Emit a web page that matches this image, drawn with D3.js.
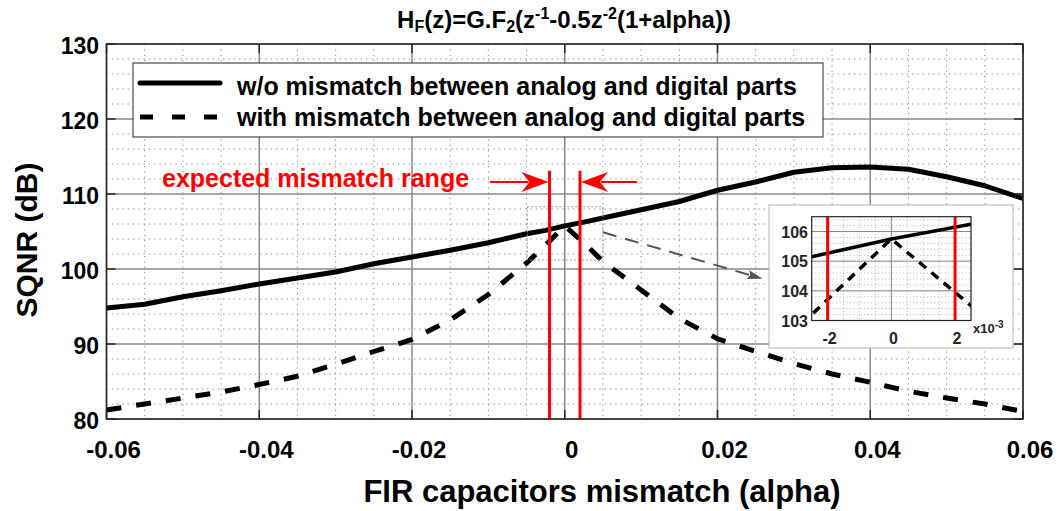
<!DOCTYPE html>
<html>
<head>
<meta charset="utf-8">
<script src="https://cdn.jsdelivr.net/npm/d3@7"></script>
<style>
  body { margin: 0; background: #fff; }
  svg text { font-family: "Liberation Sans", Arial, sans-serif; font-weight: bold; }
</style>
</head>
<body>
<svg id="chart" width="1062" height="511"></svg>
<script>
// mismatch values (alpha) where the curves were sampled
const alpha = [-0.06, -0.055, -0.05, -0.045, -0.04, -0.035, -0.03, -0.025, -0.02, -0.015, -0.01, -0.005, -0.0025,
  0, 0.0025, 0.005, 0.01, 0.015, 0.02, 0.025, 0.03, 0.035, 0.04, 0.045, 0.05, 0.055, 0.06];
// SQNR (dB) w/o mismatch between analog and digital parts
const sqnrMatched = [94.8, 95.3, 96.3, 97.1, 98.0, 98.8, 99.6, 100.7, 101.6, 102.5, 103.5, 104.7, 105.15,
  105.75, 106.25, 106.8, 107.9, 109.0, 110.5, 111.6, 112.9, 113.5, 113.6, 113.3, 112.3, 111.1, 109.4];
// SQNR (dB) with mismatch between analog and digital parts
const sqnrMismatch = [81.2, 82.0, 82.8, 83.6, 84.6, 85.7, 87.3, 89.0, 90.6, 93.2, 96.6, 100.8, 103.2,
  105.75, 103.5, 101.0, 97.2, 93.4, 90.7, 89.0, 87.4, 86.0, 84.9, 83.7, 82.8, 82.0, 81.0];

const xTicks = [-0.06, -0.04, -0.02, 0, 0.02, 0.04, 0.06];
const yTicks = [80, 90, 100, 110, 120, 130];
const insetXTicks = [-0.002, 0, 0.002];
const insetYTicks = [103, 104, 105, 106];

// expected mismatch range (red lines) and zoom region
const rangeLines = [-0.002, 0.002];
const rangeTop = 113.1;
const zoomBoxX = [-0.0049, 0.005];
const zoomBoxY = [101.2, 108.3];
const zoomArrow = [[0.005, 104.9], [0.0259, 98.7]];

const legendLabels = ["w/o mismatch between analog and digital parts", "with mismatch between analog and digital parts"];

const svg = d3.select("#chart");

const m = { left: 106.5, right: 1023, top: 44, bottom: 419 };
const x = d3.scaleLinear().domain([-0.06, 0.06]).range([m.left, m.right]);
const y = d3.scaleLinear().domain([80, 130]).range([m.bottom, m.top]);

//Grid: minor dotted first, then major solid
const gMinor = svg.append("g").attr("stroke", "#8a8a8a").attr("stroke-width", 1).attr("stroke-dasharray", "1.3,4");
d3.range(-0.06, 0.0601, 0.005).filter(v => Math.abs(Math.round(v / 0.02) * 0.02 - v) > 1e-6).forEach(v => {
  gMinor.append("line").attr("x1", x(v)).attr("x2", x(v)).attr("y1", m.top).attr("y2", m.bottom);
});
d3.range(80, 130.1, 2).filter(v => v % 10 !== 0).forEach(v => {
  gMinor.append("line").attr("x1", m.left).attr("x2", m.right).attr("y1", y(v)).attr("y2", y(v));
});
const gMajor = svg.append("g").attr("stroke", "#8a8a8a").attr("stroke-width", 1.5);
xTicks.forEach(v => gMajor.append("line").attr("x1", x(v)).attr("x2", x(v)).attr("y1", m.top).attr("y2", m.bottom));
yTicks.forEach(v => gMajor.append("line").attr("x1", m.left).attr("x2", m.right).attr("y1", y(v)).attr("y2", y(v)));

//Curves
const line = d3.line().x(d => x(d[0])).y(d => y(d[1]));
const ptsA = alpha.map((a, i) => [a, sqnrMatched[i]]);
const ptsB = alpha.map((a, i) => [a, sqnrMismatch[i]]);

svg.append("defs").append("clipPath").attr("id", "mainClip")
  .append("rect").attr("x", m.left).attr("y", m.top).attr("width", m.right - m.left).attr("height", m.bottom - m.top);

const gData = svg.append("g").attr("clip-path", "url(#mainClip)");
gData.append("path").datum(ptsB).attr("d", line).attr("fill", "none").attr("stroke", "#000")
  .attr("stroke-width", 5).attr("stroke-dasharray", "15,15");
gData.append("path").datum(ptsA).attr("d", line).attr("fill", "none").attr("stroke", "#000")
  .attr("stroke-width", 5).attr("stroke-linejoin", "round");

//Zoom region + arrow to inset
svg.append("rect").attr("x", x(zoomBoxX[0])).attr("y", y(zoomBoxY[1]))
  .attr("width", x(zoomBoxX[1]) - x(zoomBoxX[0])).attr("height", y(zoomBoxY[0]) - y(zoomBoxY[1]))
  .attr("fill", "none").attr("stroke", "#9a9a9a").attr("stroke-width", 1).attr("stroke-dasharray", "2,2");

function arrowHead(x2, y2, ang, len, half, notch, color) {
  const c = Math.cos(ang), s = Math.sin(ang);
  const p = (a, b) => [x2 - a * c + b * s, y2 - a * s - b * c];
  const pts = [[x2, y2], p(len, half), p(len - notch, 0), p(len, -half)];
  return svg.append("path").attr("d", "M" + pts.map(q => q.join(",")).join("L") + "Z").attr("fill", color);
}

{
  const [a0, a1] = zoomArrow;
  const x1 = x(a0[0]), y1 = y(a0[1]), x2 = x(a1[0]), y2 = y(a1[1]);
  const ang = Math.atan2(y2 - y1, x2 - x1);
  const hl = 13;
  svg.append("line").attr("x1", x1).attr("y1", y1)
    .attr("x2", x2 - hl * Math.cos(ang)).attr("y2", y2 - hl * Math.sin(ang))
    .attr("stroke", "#555").attr("stroke-width", 2).attr("stroke-dasharray", "14,9");
  arrowHead(x2, y2, ang, 15, 4.5, 2, "#555");
}

//Red range lines
rangeLines.forEach(v => {
  svg.append("line").attr("x1", x(v)).attr("x2", x(v)).attr("y1", y(rangeTop)).attr("y2", m.bottom)
    .attr("stroke", "#ff0000").attr("stroke-width", 3);
});
// arrows pointing at the range
const arrowY = 182;
[[490, x(rangeLines[0]) - 1], [637, x(rangeLines[1]) + 1]].forEach(([xs, xe]) => {
  const ang = xe > xs ? 0 : Math.PI;
  svg.append("line").attr("x1", xs).attr("x2", xe - 20 * Math.cos(ang)).attr("y1", arrowY).attr("y2", arrowY)
    .attr("stroke", "#ff0000").attr("stroke-width", 2);
  arrowHead(xe, arrowY, ang, 27, 10, 8, "#ff0000");
});
svg.append("text").attr("x", 162).attr("y", 187).attr("fill", "#ff0000").attr("font-size", 25)
  .text("expected mismatch range");

//Axes box and ticks
svg.append("rect").attr("x", m.left).attr("y", m.top).attr("width", m.right - m.left).attr("height", m.bottom - m.top)
  .attr("fill", "none").attr("stroke", "#262626").attr("stroke-width", 1.5);
const gTicks = svg.append("g").attr("stroke", "#262626").attr("stroke-width", 1.5);
const tl = 9;
xTicks.forEach(v => {
  gTicks.append("line").attr("x1", x(v)).attr("x2", x(v)).attr("y1", m.bottom).attr("y2", m.bottom - tl);
  gTicks.append("line").attr("x1", x(v)).attr("x2", x(v)).attr("y1", m.top).attr("y2", m.top + tl);
});
yTicks.forEach(v => {
  gTicks.append("line").attr("x1", m.left).attr("x2", m.left + tl).attr("y1", y(v)).attr("y2", y(v));
  gTicks.append("line").attr("x1", m.right).attr("x2", m.right - tl).attr("y1", y(v)).attr("y2", y(v));
});

const fmtX = d => d === 0 ? "0" : d.toFixed(2);
svg.append("g").selectAll("text").data(xTicks).enter().append("text")
  .attr("x", d => x(d) + 7).attr("y", 458).attr("text-anchor", "middle").attr("font-size", 24)
  .attr("fill", "#000").text(fmtX);
svg.append("g").selectAll("text").data(yTicks).enter().append("text")
  .attr("x", 99).attr("y", d => y(d) + 10).attr("text-anchor", "end").attr("font-size", 23)
  .attr("fill", "#000").text(d => d);

//Axis labels and title
svg.append("text").attr("x", 602).attr("y", 502).attr("text-anchor", "middle").attr("font-size", 31)
  .text("FIR capacitors mismatch (alpha)");
svg.append("text").attr("transform", "translate(37,240) rotate(-90)").attr("text-anchor", "middle")
  .attr("font-size", 30).text("SQNR (dB)");

const title = svg.append("text").attr("x", 564).attr("y", 28).attr("text-anchor", "middle").attr("font-size", 24);
title.append("tspan").text("H");
title.append("tspan").attr("font-size", 16).attr("dy", 4).text("F");
title.append("tspan").attr("dy", -4).text("(z)=G.F");
title.append("tspan").attr("font-size", 16).attr("dy", 4).text("2");
title.append("tspan").attr("dy", -4).text("(z");
title.append("tspan").attr("font-size", 16).attr("dy", -9).text("-1");
title.append("tspan").attr("dy", 9).text("-0.5z");
title.append("tspan").attr("font-size", 16).attr("dy", -9).text("-2");
title.append("tspan").attr("dy", 9).text("(1+alpha))");

//Legend
const lg = { x: 133, y: 63, w: 690, h: 74 };
svg.append("rect").attr("x", lg.x).attr("y", lg.y).attr("width", lg.w).attr("height", lg.h)
  .attr("fill", "#fff").attr("stroke", "#262626").attr("stroke-width", 1);
svg.append("line").attr("x1", 140).attr("x2", 220).attr("y1", 83).attr("y2", 83)
  .attr("stroke", "#000").attr("stroke-width", 5).attr("stroke-linecap", "round");
svg.append("line").attr("x1", 140).attr("x2", 220).attr("y1", 117).attr("y2", 117)
  .attr("stroke", "#000").attr("stroke-width", 5).attr("stroke-dasharray", "13,19");
legendLabels.forEach((t, i) => {
  svg.append("text").attr("x", 237).attr("y", 94.5 + i * 31).attr("font-size", 25).text(t);
});

//Inset zoom
svg.append("rect").attr("x", 769).attr("y", 205).attr("width", 244).attr("height", 143)
  .attr("fill", "#fff").attr("stroke", "#b4b4b4").attr("stroke-width", 1);
const ib = { left: 811.7, right: 971, top: 216.7, bottom: 320.5 };
const ix = d3.scaleLinear().domain([-0.0025, 0.0025]).range([ib.left, ib.right]);
const iy = d3.scaleLinear().domain([103, 106.5]).range([ib.bottom, ib.top]);

const giMinor = svg.append("g").attr("stroke", "#a0a0a0").attr("stroke-width", 0.8).attr("stroke-dasharray", "1,2.5");
d3.range(-0.0025, 0.00251, 0.0005).forEach(v => {
  giMinor.append("line").attr("x1", ix(v)).attr("x2", ix(v)).attr("y1", ib.top).attr("y2", ib.bottom);
});
d3.range(103, 106.51, 0.2).forEach(v => {
  giMinor.append("line").attr("x1", ib.left).attr("x2", ib.right).attr("y1", iy(v)).attr("y2", iy(v));
});
const giMajor = svg.append("g").attr("stroke", "#8a8a8a").attr("stroke-width", 1);
insetXTicks.forEach(v => giMajor.append("line").attr("x1", ix(v)).attr("x2", ix(v)).attr("y1", ib.top).attr("y2", ib.bottom));
insetYTicks.forEach(v => giMajor.append("line").attr("x1", ib.left).attr("x2", ib.right).attr("y1", iy(v)).attr("y2", iy(v)));

svg.select("defs").append("clipPath").attr("id", "insetClip")
  .append("rect").attr("x", ib.left).attr("y", ib.top).attr("width", ib.right - ib.left).attr("height", ib.bottom - ib.top);
const iline = d3.line().x(d => ix(d[0])).y(d => iy(d[1]));
const gi = svg.append("g").attr("clip-path", "url(#insetClip)");
gi.append("path").datum(ptsB).attr("d", iline).attr("fill", "none").attr("stroke", "#000")
  .attr("stroke-width", 3.5).attr("stroke-dasharray", "9,7");
gi.append("path").datum(ptsA).attr("d", iline).attr("fill", "none").attr("stroke", "#000")
  .attr("stroke-width", 3.5);
rangeLines.forEach(v => {
  gi.append("line").attr("x1", ix(v)).attr("x2", ix(v)).attr("y1", ib.top).attr("y2", ib.bottom)
    .attr("stroke", "#ff0000").attr("stroke-width", 3);
});
svg.append("rect").attr("x", ib.left).attr("y", ib.top).attr("width", ib.right - ib.left).attr("height", ib.bottom - ib.top)
  .attr("fill", "none").attr("stroke", "#262626").attr("stroke-width", 1.2);

svg.append("g").selectAll("text").data(insetXTicks).enter().append("text")
  .attr("x", d => ix(d) + 2).attr("y", 344).attr("text-anchor", "middle").attr("font-size", 16)
  .attr("fill", "#262626").text(d => Math.round(d * 1000));
svg.append("g").selectAll("text").data(insetYTicks).enter().append("text")
  .attr("x", 808).attr("y", d => iy(d) + 6).attr("text-anchor", "end").attr("font-size", 16)
  .attr("fill", "#262626").text(d => d);
const expo = svg.append("text").attr("x", 973).attr("y", 333).attr("font-size", 13).attr("fill", "#262626");
expo.append("tspan").text("x10");
expo.append("tspan").attr("font-size", 10).attr("dy", -5).text("-3");
</script>
</body>
</html>
